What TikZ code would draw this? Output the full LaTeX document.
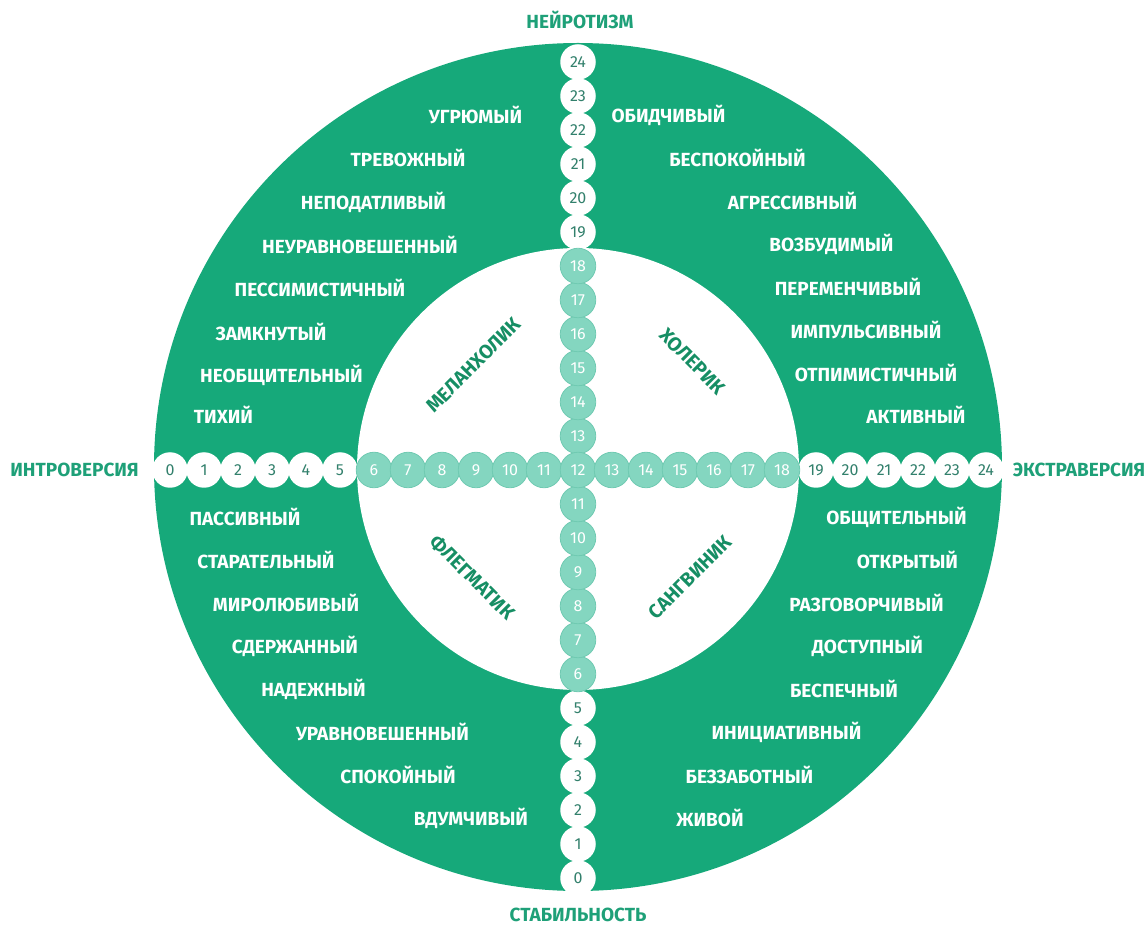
\documentclass[tikz,border=0pt]{standalone}
\usepackage{fontspec}
\setmainfont{Fira Sans}
\definecolor{mgreen}{RGB}{22,169,122}
\definecolor{tealc}{RGB}{132,214,192}
\definecolor{tealb}{RGB}{112,202,178}
\definecolor{lgreen}{RGB}{30,160,120}
\definecolor{qgreen}{RGB}{22,142,100}
\definecolor{numgreen}{RGB}{50,128,108}
\tikzset{
  word/.style={text=white, font=\fontsize{19}{19}\selectfont\bfseries, inner sep=0pt},
  axislab/.style={text=lgreen, font=\fontsize{19}{19}\selectfont\bfseries, inner sep=0pt},
  temper/.style={text=qgreen, font=\fontsize{19.5}{19.5}\selectfont\bfseries, inner sep=0pt},
  numw/.style={circle, minimum size=35.5pt, inner sep=0pt, fill=white, text=numgreen, font=\fontsize{16}{16}\selectfont},
  numt/.style={circle, minimum size=35.5pt, inner sep=0pt, fill=tealc, draw=tealb, line width=0.8pt, text=white, font=\fontsize{16}{16}\selectfont}
}
\begin{document}
\begin{tikzpicture}[x=1pt,y=1pt]
\useasboundingbox (-578,-458) rectangle (569,470);
\fill[mgreen] (0,3) circle[radius=424];
\fill[white] (0,1) circle[radius=221];
% number chains
\foreach \k in {0,...,5,19,20,21,22,23,24} {
  \node[numw] (h\k) at ({34*(\k-12)},0) {\k};
  \node[numw] (v\k) at (0,{34*(\k-12)}) {\k};
}
\foreach \k in {6,...,11,13,14,15,16,17,18} {
  \node[numt] (v\k) at (0,{34*(\k-12)}) {\k};
}
\foreach \k in {6,...,18} {
  \node[numt] (h\k) at ({34*(\k-12)},0) {\k};
}
% axis labels
\node[axislab] (neuro) at (2,450) {НЕЙРОТИЗМ};
\node[axislab] (stab) at (0,-445) {СТАБИЛЬНОСТЬ};
\node[axislab] (intro) at (-503.5,0) {ИНТРОВЕРСИЯ};
\node[axislab] (extra) at (501,0) {ЭКСТРАВЕРСИЯ};
% upper left
\node[word] (ul1) at (-102.5,355) {УГРЮМЫЙ};
\node[word] (ul2) at (-170,312) {ТРЕВОЖНЫЙ};
\node[word] (ul3) at (-204.5,268) {НЕПОДАТЛИВЫЙ};
\node[word] (ul4) at (-218,225) {НЕУРАВНОВЕШЕННЫЙ};
\node[word] (ul5) at (-258,182) {ПЕССИМИСТИЧНЫЙ};
\node[word] (ul6) at (-307,138) {ЗАМКНУТЫЙ};
\node[word] (ul7) at (-296.5,95) {НЕОБЩИТЕЛЬНЫЙ};
\node[word] (ul8) at (-354.5,55) {ТИХИЙ};
% upper right
\node[word] (ur1) at (90.5,355) {ОБИДЧИВЫЙ};
\node[word] (ur2) at (159.5,312) {БЕСПОКОЙНЫЙ};
\node[word] (ur3) at (214.5,269) {АГРЕССИВНЫЙ};
\node[word] (ur4) at (253.5,226) {ВОЗБУДИМЫЙ};
\node[word] (ur5) at (270,183) {ПЕРЕМЕНЧИВЫЙ};
\node[word] (ur6) at (288,140) {ИМПУЛЬСИВНЫЙ};
\node[word] (ur7) at (298,97) {ОТПИМИСТИЧНЫЙ};
\node[word] (ur8) at (338,55) {АКТИВНЫЙ};
% lower left
\node[word] (ll1) at (-333,-47) {ПАССИВНЫЙ};
\node[word] (ll2) at (-312,-90) {СТАРАТЕЛЬНЫЙ};
\node[word] (ll3) at (-292,-133) {МИРОЛЮБИВЫЙ};
\node[word] (ll4) at (-283,-176) {СДЕРЖАННЫЙ};
\node[word] (ll5) at (-264.5,-219) {НАДЕЖНЫЙ};
\node[word] (ll6) at (-195.5,-262) {УРАВНОВЕШЕННЫЙ};
\node[word] (ll7) at (-180,-305) {СПОКОЙНЫЙ};
\node[word] (ll8) at (-107,-348) {ВДУМЧИВЫЙ};
% lower right
\node[word] (lr1) at (318.5,-47) {ОБЩИТЕЛЬНЫЙ};
\node[word] (lr2) at (329.5,-90) {ОТКРЫТЫЙ};
\node[word] (lr3) at (288.5,-133) {РАЗГОВОРЧИВЫЙ};
\node[word] (lr4) at (289.5,-176) {ДОСТУПНЫЙ};
\node[word] (lr5) at (266,-219) {БЕСПЕЧНЫЙ};
\node[word] (lr6) at (208.5,-262) {ИНИЦИАТИВНЫЙ};
\node[word] (lr7) at (171.5,-305) {БЕЗЗАБОТНЫЙ};
\node[word] (lr8) at (132,-348) {ЖИВОЙ};
% temperament labels
\node[temper, rotate=45] (mel) at (-104.5,105) {МЕЛАНХОЛИК};
\node[temper, rotate=-45] (chol) at (114.5,108.5) {ХОЛЕРИК};
\node[temper, rotate=-45] (phleg) at (-105.5,-107.5) {ФЛЕГМАТИК};
\node[temper, rotate=45] (sang) at (112,-107.5) {САНГВИНИК};
\end{tikzpicture}
\end{document}
